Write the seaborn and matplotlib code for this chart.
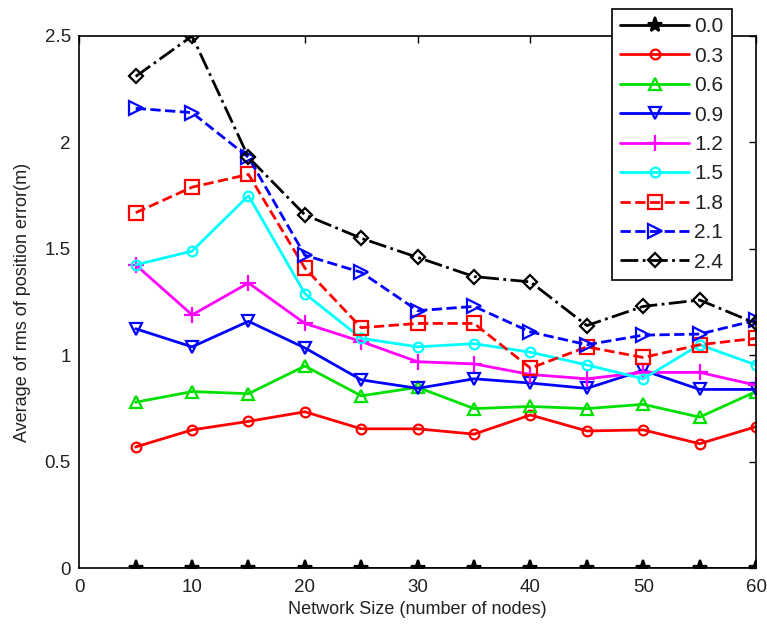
import numpy as np
import pandas as pd
import matplotlib
matplotlib.use("Agg")
import matplotlib.pyplot as plt
import seaborn as sns

# Network sizes on x axis
network_size = [5, 10, 15, 20, 25, 30, 35, 40, 45, 50, 55, 60]

# rms error averages per noise level
err_00 = [0, 0, 0, 0, 0, 0, 0, 0, 0, 0, 0, 0]
err_03 = [0.57, 0.65, 0.69, 0.735, 0.655, 0.655, 0.63, 0.72, 0.645, 0.65, 0.585, 0.665]
err_06 = [0.78, 0.83, 0.82, 0.95, 0.81, 0.85, 0.75, 0.76, 0.75, 0.77, 0.71, 0.83]
err_09 = [1.125, 1.04, 1.16, 1.035, 0.885, 0.845, 0.89, 0.87, 0.845, 0.93, 0.84, 0.84]
err_12 = [1.425, 1.19, 1.34, 1.15, 1.065, 0.97, 0.96, 0.91, 0.89, 0.92, 0.92, 0.86]
err_15 = [1.425, 1.49, 1.75, 1.29, 1.08, 1.04, 1.055, 1.015, 0.955, 0.89, 1.05, 0.955]
err_18 = [1.67, 1.79, 1.85, 1.41, 1.13, 1.15, 1.15, 0.94, 1.04, 0.99, 1.05, 1.08]
err_21 = [2.16, 2.14, 1.93, 1.47, 1.39, 1.21, 1.23, 1.11, 1.05, 1.095, 1.10, 1.165]
err_24 = [2.31, 2.50, 1.93, 1.66, 1.55, 1.46, 1.37, 1.345, 1.14, 1.23, 1.26, 1.15]

series_labels = ["0.0", "0.3", "0.6", "0.9", "1.2", "1.5", "1.8", "2.1", "2.4"]
series_values = [err_00, err_03, err_06, err_09, err_12, err_15, err_18, err_21, err_24]

# matlab-ish styling per series
colors = ["black", "red", "#00e000", "blue", "magenta", "cyan", "red", "blue", "black"]
markers = ["*", "o", "^", "v", "+", "o", "s", ">", "D"]
linestyles = ["-", "-", "-", "-", "-", "-", "--", "--", "-."]
msizes = [11, 7, 9, 9, 11, 7, 10, 10, 7]

sns.set_style("white")
plt.rcParams["font.family"] = ["Liberation Sans", "DejaVu Sans"]

fig = plt.figure(figsize=(7.67, 6.26), dpi=100)
ax = fig.add_axes([0.1034, 0.0922, 0.8823, 0.8503])

for lab, vals, c, m, ls, ms in zip(series_labels, series_values, colors, markers, linestyles, msizes):
    df = pd.DataFrame({"size": network_size, "err": vals})
    sns.lineplot(data=df, x="size", y="err", ax=ax, color=c, marker=m, linestyle=ls,
                 linewidth=2, markersize=ms, markerfacecolor=c if m == "*" else "none",
                 markeredgecolor=c, markeredgewidth=1.6, label=lab)

ax.set_xlim(0, 60)
ax.set_ylim(0, 2.5)
ax.set_xticks(np.arange(0, 61, 10))
ax.set_yticks([0, 0.5, 1, 1.5, 2, 2.5])
ax.set_yticklabels(["0", "0.5", "1", "1.5", "2", "2.5"])
ax.tick_params(direction="in", top=True, right=True, length=5, width=1,
               labelsize=13.5, colors="black", labelcolor="#222222")
ax.tick_params(axis="x", pad=8)
ax.tick_params(axis="y", pad=6)
for sp in ax.spines.values():
    sp.set_visible(True)
    sp.set_color("black")
    sp.set_linewidth(1.2)

ax.set_xlabel("Network Size (number of nodes)", fontsize=13, labelpad=3, color="#222222")
ax.set_ylabel("Average of rms of position error(m)", fontsize=13, labelpad=10, color="#222222")

leg = ax.legend(loc="upper right", bbox_to_anchor=(0.9645, 1.0507), fontsize=15,
                handlelength=3.3, handletextpad=0.25, labelspacing=0.5,
                borderpad=0.4, borderaxespad=0, fancybox=False, framealpha=1,
                edgecolor="black")
leg.get_frame().set_linewidth(1.2)
for t in leg.get_texts():
    t.set_color("#222222")

fig.savefig("out.png", dpi=100)
